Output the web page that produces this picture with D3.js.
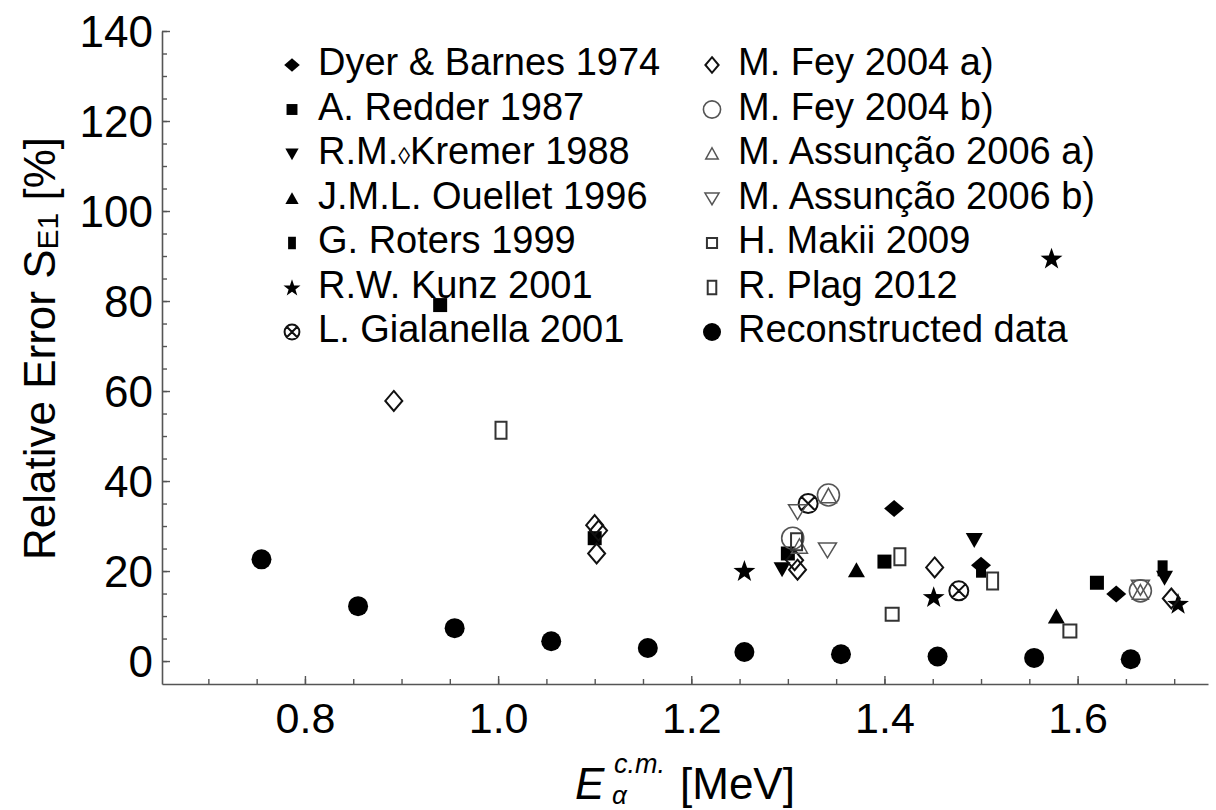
<!DOCTYPE html>
<html>
<head>
<meta charset="utf-8">
<script src="https://cdn.jsdelivr.net/npm/d3@7"></script>
<style>
  body { margin: 0; background: #fff; }
  svg { display: block; font-family: "Liberation Sans", Arial, sans-serif; }
</style>
</head>
<body>
<svg id="chart" width="1216" height="810"></svg>
<script>
// ---- data: [E_alpha (MeV), relative error (%)] ----
const dyerBarnes1974 = [[1.410, 33.9], [1.500, 21.3], [1.640, 14.9]];
const redder1987 = [[0.940, 79.1], [1.100, 27.3], [1.300, 23.9], [1.400, 22.1], [1.620, 17.4]];
const kremer1988 = [[1.294, 20.4], [1.493, 26.9], [1.690, 18.5]];
const ouellet1996 = [[1.371, 20.2], [1.578, 9.9]];
const roters1999 = [[1.500, 20.3], [1.688, 20.6]];
const kunz2001 = [[1.255, 20.1], [1.451, 14.3], [1.573, 89.5], [1.704, 12.8]];
const gialanella2001 = [[1.321, 35.0], [1.477, 15.6]];
const fey2004a = [[0.892, 57.8], [1.100, 30.2], [1.104, 29.0], [1.102, 23.9], [1.307, 22.4], [1.310, 20.3], [1.452, 20.8], [1.697, 13.9]];
const fey2004b = [[1.305, 27.3], [1.342, 36.9], [1.665, 15.6]];
const assuncao2006a = [[1.312, 25.4], [1.342, 36.6], [1.665, 15.2]];
const assuncao2006b = [[1.310, 33.2], [1.341, 24.7], [1.665, 16.4]];
const makii2009 = [[1.408, 10.4], [1.592, 6.7]];
const plag2012 = [[1.003, 51.3], [1.309, 26.5], [1.416, 23.2], [1.512, 17.8]];
const reconstructed = [[0.755, 22.6], [0.855, 12.2], [0.955, 7.3], [1.055, 4.4], [1.155, 2.9],
                       [1.255, 2.0], [1.355, 1.5], [1.455, 1.0], [1.555, 0.7], [1.655, 0.4]];

const xMajorTicks = [0.8, 1.0, 1.2, 1.4, 1.6];
const xMinorTicks = d3.range(0.70, 1.7001, 0.05).map(v => +v.toFixed(2));
const yMajorTicks = [0, 20, 40, 60, 80, 100, 120, 140];
const yMinorTicks = d3.range(0, 140.001, 5);

// series: label, data, marker kind
const seriesLeft = [
  { label: "Dyer & Barnes 1974", data: dyerBarnes1974, kind: "fdiamond" },
  { label: "A. Redder 1987", data: redder1987, kind: "fsquare" },
  { label: "R.M.\u25CAKremer 1988", data: kremer1988, kind: "fdown" },
  { label: "J.M.L. Ouellet 1996", data: ouellet1996, kind: "fup" },
  { label: "G. Roters 1999", data: roters1999, kind: "frect" },
  { label: "R.W. Kunz 2001", data: kunz2001, kind: "star" },
  { label: "L. Gialanella 2001", data: gialanella2001, kind: "xcircle" }
];
const seriesRight = [
  { label: "M. Fey 2004 a)", data: fey2004a, kind: "odiamond" },
  { label: "M. Fey 2004 b)", data: fey2004b, kind: "ocircle" },
  { label: "M. Assunção 2006 a)", data: assuncao2006a, kind: "oup" },
  { label: "M. Assunção 2006 b)", data: assuncao2006b, kind: "odown" },
  { label: "H. Makii 2009", data: makii2009, kind: "osquare" },
  { label: "R. Plag 2012", data: plag2012, kind: "orect" },
  { label: "Reconstructed data", data: reconstructed, kind: "fcircle" }
];

const svg = d3.select("#chart");

const x = d3.scaleLinear().domain([0.652, 1.735]).range([162, 1208]);
const y = d3.scaleLinear().domain([-5.1, 140]).range([684, 31]);

// ---- marker shapes (centred at 0,0; s = scale) ----
function markerPath(kind, s) {
  const p = d3.path();
  const poly = pts => { pts.forEach((q, i) => i ? p.lineTo(q[0] * s, q[1] * s) : p.moveTo(q[0] * s, q[1] * s)); p.closePath(); };
  switch (kind) {
    case "fdiamond": poly([[0, -8.5], [10, 0], [0, 8.5], [-10, 0]]); break;
    case "odiamond": poly([[0, -10], [8.5, 0], [0, 10], [-8.5, 0]]); break;
    case "fsquare": poly([[-7, -7], [7, -7], [7, 7], [-7, 7]]); break;
    case "osquare": poly([[-6.5, -6.5], [6.5, -6.5], [6.5, 6.5], [-6.5, 6.5]]); break;
    case "frect": poly([[-5, -8], [5, -8], [5, 8], [-5, 8]]); break;
    case "orect": poly([[-5.5, -8.5], [5.5, -8.5], [5.5, 8.5], [-5.5, 8.5]]); break;
    case "fdown": poly([[-8.5, -7], [8.5, -7], [0, 8]]); break;
    case "fup": poly([[0, -8], [8.5, 7], [-8.5, 7]]); break;
    case "oup": poly([[0, -8], [8, 6.5], [-8, 6.5]]); break;
    case "odown": poly([[-9, -7], [9, -7], [0, 8]]); break;
    case "star": {
      const pts = [];
      for (let i = 0; i < 10; i++) {
        const r = i % 2 ? 4.6 : 11.5;
        const a = -Math.PI / 2 + i * Math.PI / 5;
        pts.push([r * Math.cos(a), r * Math.sin(a) + 1]);
      }
      poly(pts); break;
    }
    case "ocircle": p.moveTo(11 * s, 0); p.arc(0, 0, 11 * s, 0, 2 * Math.PI); break;
    case "fcircle": p.moveTo(10 * s, 0); p.arc(0, 0, 10 * s, 0, 2 * Math.PI); break;
    case "xcircle": {
      const r = 9.5 * s, d = r * Math.SQRT1_2;
      p.moveTo(r, 0); p.arc(0, 0, r, 0, 2 * Math.PI);
      p.moveTo(-d, -d); p.lineTo(d, d);
      p.moveTo(d, -d); p.lineTo(-d, d);
      break;
    }
  }
  return p.toString();
}

const markerStyle = {
  fdiamond: { fill: "#000", stroke: "none", sw: 0 },
  fsquare: { fill: "#000", stroke: "none", sw: 0 },
  frect: { fill: "#000", stroke: "none", sw: 0 },
  fdown: { fill: "#000", stroke: "none", sw: 0 },
  fup: { fill: "#000", stroke: "none", sw: 0 },
  star: { fill: "#000", stroke: "none", sw: 0 },
  fcircle: { fill: "#000", stroke: "none", sw: 0 },
  xcircle: { fill: "none", stroke: "#111", sw: 2 },
  odiamond: { fill: "none", stroke: "#111", sw: 2 },
  ocircle: { fill: "none", stroke: "#555", sw: 1.6 },
  oup: { fill: "none", stroke: "#555", sw: 1.5 },
  odown: { fill: "none", stroke: "#555", sw: 1.5 },
  osquare: { fill: "none", stroke: "#333", sw: 2 },
  orect: { fill: "none", stroke: "#333", sw: 2 }
};

function drawMarker(sel, kind, s) {
  const st = markerStyle[kind];
  sel.attr("d", markerPath(kind, s))
    .attr("fill", st.fill)
    .attr("stroke", st.stroke)
    .attr("stroke-width", st.sw)
    .attr("stroke-linejoin", "miter");
}

// ---- axes ----
const axisColor = "#555";

const gx = svg.append("g").attr("transform", `translate(0,${y.range()[0]})`);
gx.call(d3.axisBottom(x).tickValues(xMinorTicks).tickSize(-5).tickSizeOuter(0).tickFormat(""));
gx.call(g => g.selectAll(".tick line").attr("stroke", axisColor).attr("stroke-width", 1.4));
const gxMajor = svg.append("g").attr("transform", `translate(0,${y.range()[0]})`)
  .call(d3.axisBottom(x).tickValues(xMajorTicks).tickSize(-8).tickSizeOuter(0).tickFormat(d3.format(".1f")));
gxMajor.select(".domain").remove();
gxMajor.selectAll(".tick line").attr("stroke", axisColor).attr("stroke-width", 1.4);
gxMajor.selectAll(".tick text").attr("y", 49).attr("dy", 0)
  .attr("font-size", 43).attr("fill", "#000").attr("font-family", "Liberation Sans, Arial, sans-serif");
gx.select(".domain").attr("stroke", axisColor).attr("stroke-width", 1.6);

const gy = svg.append("g").attr("transform", `translate(${x.range()[0]},0)`);
gy.call(d3.axisLeft(y).tickValues(yMinorTicks).tickSize(-5).tickSizeOuter(0).tickFormat(""));
gy.selectAll(".tick line").attr("stroke", axisColor).attr("stroke-width", 1.4);
gy.select(".domain").attr("stroke", axisColor).attr("stroke-width", 1.6);
const gyMajor = svg.append("g").attr("transform", `translate(${x.range()[0]},0)`)
  .call(d3.axisLeft(y).tickValues(yMajorTicks).tickSize(-8).tickSizeOuter(0).tickFormat(d3.format("d")));
gyMajor.select(".domain").remove();
gyMajor.selectAll(".tick line").attr("stroke", axisColor).attr("stroke-width", 1.4);
gyMajor.selectAll(".tick text").attr("x", -9).attr("dy", "0.36em")
  .attr("font-size", 44).attr("fill", "#000").attr("font-family", "Liberation Sans, Arial, sans-serif");

// ---- axis titles ----
const yTitle = svg.append("text")
  .attr("transform", "translate(55,560) rotate(-90)")
  .attr("font-size", 44).attr("fill", "#000");
yTitle.append("tspan").text("Relative Error S");
yTitle.append("tspan").attr("font-size", 30).attr("dy", 3).text("E1");
yTitle.append("tspan").attr("dy", -3).text(" [%]");

svg.append("text").attr("x", 575).attr("y", 799).attr("font-size", 44)
  .attr("font-style", "italic").text("E");
svg.append("text").attr("x", 614).attr("y", 773).attr("font-size", 27)
  .attr("font-style", "italic").text("c.m.");
svg.append("text").attr("x", 612).attr("y", 804).attr("font-size", 26)
  .attr("font-style", "italic").text("α");
svg.append("text").attr("x", 680).attr("y", 799).attr("font-size", 44).text("[MeV]");

// ---- points ----
const allSeries = seriesLeft.concat(seriesRight);
allSeries.forEach(sr => {
  svg.append("g").selectAll("path").data(sr.data).join("path")
    .attr("transform", d => `translate(${x(d[0])},${y(d[1])})`)
    .call(drawMarker, sr.kind, 1);
});

// ---- legend ----
function drawLegend(list, mx, tx) {
  list.forEach((sr, i) => {
    const base = 75 + i * 44.5;
    svg.append("path")
      .attr("transform", `translate(${mx},${base - 10})`)
      .call(drawMarker, sr.kind, sr.kind === "fcircle" ? 0.9 : 0.78);
    const t = svg.append("text").attr("x", tx).attr("y", base).attr("font-size", 38).attr("fill", "#000");
    if (sr.label.includes("\u25CA")) {
      const parts = sr.label.split("\u25CA");
      t.append("tspan").text(parts[0]);
      t.append("tspan").attr("font-size", 24).text("\u25CA");
      t.append("tspan").text(parts[1]);
    } else {
      t.text(sr.label);
    }
  });
}
drawLegend(seriesLeft, 292, 318);
drawLegend(seriesRight, 712, 738);
</script>
</body>
</html>
